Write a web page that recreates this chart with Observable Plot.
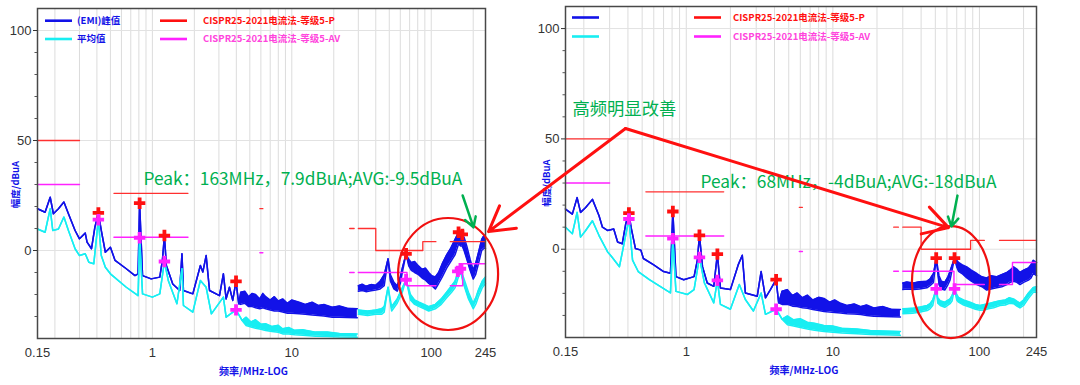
<!DOCTYPE html>
<html><head><meta charset="utf-8">
<script src="https://cdn.jsdelivr.net/npm/d3@7"></script>
<script src="https://cdn.jsdelivr.net/npm/@observablehq/plot@0.6"></script>
<style>
body{margin:0;background:#fff;}
#wrap{position:relative;width:1080px;height:385px;overflow:hidden;background:#fff;}
#left,#right{position:absolute;top:0;width:540px;height:385px;}
#left{left:0;} #right{left:540px;}
</style></head><body><div id="wrap"><div id="left"></div><div id="right"></div></div>
<script>
// ---------- axes ----------
const FREQ_TICKS = [0.15, 1, 10, 100, 245];
const FREQ_GRID = [0.2,0.3,0.4,0.5,0.6,0.7,0.8,0.9,1,2,3,4,5,6,7,8,9,10,20,30,40,50,60,70,80,90,100,200];
const Y_MAJOR = [0, 50, 100];
const Y_MINOR = [-30,-20,-10,10,20,30,40,60,70,80,90];
const Y_GRID = [0, 50, 100];

// ---------- texts ----------
const Y_LABEL = "幅度/dBuA";
const X_LABEL = "频率/MHz-LOG";
const LEGEND_L = ["(EMI)峰值", "平均值", "CISPR25-2021电流法-等级5-P", "CISPR25-2021电流法-等级5-AV"];
const LEGEND_R = ["", "", "CISPR25-2021电流法-等级5-P", "CISPR25-2021电流法-等级5-AV"];
const NOTE_L = "Peak：163MHz，7.9dBuA;AVG:-9.5dBuA";
const NOTE_R = "Peak：68MHz，-4dBuA;AVG:-18dBuA";
const NOTE_MID = "高频明显改善";

// ---------- limits (CISPR25 class 5, current method) ----------
const LIM_P_seg = ["a","a","b","b","c","c","d","d","e","e","e","e","e","e","f","f"];
const LIM_P_f   = [0.15,0.30, 0.53,1.8, 5.9,6.2, 26,28, 30,40,40,87,87,108, 137,245];
const LIM_P_v   = [50,50, 26,26, 19,19, 10,10, 10,10,0,0,4,4, 4,4];
const LIM_AV_seg = ["a","a","b","b","c","c","d","d","e","e","e","e","f","f","f","f"];
const LIM_AV_f   = [0.15,0.30, 0.53,1.8, 5.9,6.2, 26,28, 30,67,67,108, 137,168,168,245];
const LIM_AV_v   = [30,30, 6,6, -1,-1, -10,-10, -10,-10,-16,-16, -16,-16,-6,-6];

// ---------- LEFT panel: peak ----------
const L_PK_f = [0.15,0.17,0.185,0.195,0.212,0.232,0.25,0.279,0.30,0.33,0.34,0.366,0.387,0.41,0.43,0.46,0.50,0.54,0.65,0.75,0.79,0.81,0.85,0.98,1.13,1.18,1.22,1.26,1.40,1.57,1.63,1.67,1.95,2.21,2.30,2.43,2.57,3.03,3.23,3.38,3.57,3.77,3.98,4.16];
const L_PK_v = [19,17.4,24.2,16.7,19,22,16.7,9.1,5.3,7.9,3.8,0.8,10.6,17.1,9.1,-0.8,1.5,-4.5,-8.3,-11.4,-10.6,21.5,-11.4,-12.9,-12.1,-4.5,6.8,-6.8,-15.2,-18.2,-1.5,-18.2,-19.7,-6.8,-9.8,-2.3,-18.2,-20.5,-10.6,-22,-16.7,-22.7,-14,-24.2];
const L_PK_b1_f  = [4.3,4.6,4.9,5.2,5.5,5.9,6.2,6.5,7.0,7.5,8.0,8.6,9.3,10,11.3,12.5,14,15.5,17,19.5,22,25,29.5];
const L_PK_b1_hi = [-19,-18.5,-21,-19.5,-20,-22,-19.5,-21,-22.5,-21,-23,-22,-24,-22.5,-23.5,-24.5,-23.5,-25,-24.5,-25.8,-25.2,-26.2,-26.5];
const L_PK_b1_lo = [-24.5,-24,-25.5,-25.5,-26,-26.5,-26,-26.5,-27,-27.5,-27.5,-28,-28.5,-28.5,-28.8,-29,-29.3,-29.5,-29.8,-30.3,-30.3,-30.5,-30.6];
const L_PK_b2_f  = [30,32,34,37,40,43,46,49,51,54,57,60,62,66,69,72,76,81,86,91,96,101,107,113,120,129,138,148,157,163,167,172,180,190,200,208,218,230,240,245];
const L_PK_b2_hi = [-16,-15.3,-16.2,-15.5,-15.8,-14,-11,-3.8,-11,-14.5,-16,-12,-8,-1.5,-4,-5.5,-5,-7,-8.5,-8,-10,-11.5,-12,-10,-6,-2,1,5,8.3,8,7.3,6,2,-4,-9,-6,-1,5,7,6];
const L_PK_b2_lo = [-18.5,-18.2,-18.7,-18.3,-18,-17.5,-16,-3.8,-14,-17.5,-18.5,-15,-10,-1.5,-7,-9,-10,-11,-12.5,-13.5,-15,-16,-17.5,-15,-12,-8,-5,-2,3,2,2,0,-4,-9,-13,-11,-6,0,1,1];

// ---------- LEFT panel: average ----------
const L_AV_f = [0.15,0.17,0.185,0.193,0.212,0.232,0.25,0.279,0.30,0.33,0.35,0.38,0.40,0.41,0.43,0.46,0.50,0.65,0.79,0.81,0.85,1.0,1.13,1.22,1.30,1.50,1.63,1.67,1.95,2.21,2.43,2.65,3.23,3.38,3.98,4.4];
const L_AV_v = [9.8,8.3,19,9.1,9.8,15.2,9.1,0.8,-2.3,-1.5,-5.3,-6,7.6,14,-2.3,-7.6,-10.6,-16.7,-20.5,5.8,-19.7,-21.2,-19.7,-5,-13.6,-24.2,-8.3,-25,-28,-13.6,-16.7,-28.8,-21.2,-30.3,-27,-31.8];
const L_AV_b1_f  = [4.7,5.1,5.5,6.0,6.5,7.2,8.0,8.6,9.5,10.5,12,14.8,18,22,29.5];
const L_AV_b1_hi = [-30.3,-32.5,-31.5,-33.5,-33.3,-34.5,-34,-35.6,-35,-36.3,-36,-37.1,-37,-37.7,-37.9];
const L_AV_b1_lo = [-34.1,-34.8,-35.3,-35.8,-36.4,-36.8,-37.2,-37.9,-38,-38.3,-38.5,-39,-39.1,-39.3,-39.4];
const L_AV_b2_f  = [30,35,40,44,46,49,52,57,62,66,71,76,82,89,96,107,118,129,140,148,155,162,170,185,200,210,218,232,245];
const L_AV_b2_hi = [-27,-27.5,-27,-26.5,-25.5,-16.7,-25.5,-22,-17,-13.3,-20,-22.5,-23.5,-24.5,-25.5,-24.5,-22,-19,-16,-14,-10,-8.3,-12,-19,-24,-21,-18,-14,-12];
const L_AV_b2_lo = [-29,-29.5,-29,-29,-28,-16.7,-27.5,-24,-19,-13.3,-22.5,-24.5,-25.5,-26.5,-27.5,-26.5,-24.5,-21.5,-19,-17,-13,-9.5,-15,-22,-26.5,-24,-21,-17,-15];

// ---------- LEFT markers ----------
const L_PKM_f = [0.41,0.81,1.22,3.98,66,157,167];
const L_PKM_v = [17.1,21.5,6.8,-14,-1.5,8.3,7.3];
const L_AVM_f = [0.41,0.81,1.22,3.98,66,155,162];
const L_AVM_v = [14,5.8,-5,-27,-13.3,-9.5,-8.3];

// ---------- RIGHT panel: peak ----------
const R_PK_f = [0.15,0.167,0.18,0.19,0.206,0.229,0.254,0.268,0.29,0.32,0.34,0.366,0.386,0.406,0.42,0.45,0.49,0.51,0.60,0.70,0.78,0.81,0.85,0.96,1.13,1.19,1.23,1.29,1.39,1.54,1.63,1.71,2.0,2.26,2.41,2.53,3.05,3.24,3.47,3.75,4.1,4.27];
const R_PK_v = [18.2,15.9,23.4,16.7,18.9,22.6,15.2,10,8.5,9.2,3.3,2.5,11.4,16.4,10,0.3,-0.4,-4.2,-7.1,-10.1,-10.9,17.1,-12.4,-13.8,-12.4,-4.9,6.3,-7.9,-15.3,-16.8,-2.2,-17.6,-18.3,-7.1,-2.7,-19.8,-21.3,-10.1,-22,-18.3,-13.8,-24.3];
const R_PK_b1_f  = [4.5,4.9,5.3,5.7,6.2,6.7,7.3,8.0,8.7,9.5,10.3,11.3,12.5,14,15.5,17,19,22,25,28.9];
const R_PK_b1_hi = [-19,-18.3,-21,-19.8,-22,-20.8,-23,-21.8,-22.3,-24,-23,-24.5,-25.5,-24.8,-26,-25.3,-26.6,-26,-27.2,-27.3];
const R_PK_b1_lo = [-25,-25,-25.8,-26,-26.5,-26.8,-27.3,-27.8,-28.2,-28.5,-28.7,-28.9,-29.2,-29.4,-29.6,-30,-30.4,-30.5,-30.6,-30.7];
const R_PK_b2_f  = [30,32,35.5,39,43.8,46,48.6,50.7,53,55,58,61,63,67.6,70,72,76,82,88,96,104,112,120,131,142,154,162,171,180,189,200,216,225,233,245];
const R_PK_b2_hi = [-15.3,-14.8,-15.3,-14.7,-14.5,-13.5,-11,-4,-12,-14.5,-15,-12.5,-10,-4,-5,-6,-7,-8,-9.5,-11,-12.5,-13,-12,-12.5,-11.5,-10.5,-9.5,-8,-9,-10.5,-9.5,-8.5,-7,-5,-6];
const R_PK_b2_lo = [-18.3,-18,-18.3,-18,-17.5,-16.5,-15,-4,-16,-18,-18.5,-16,-14,-4,-8,-10,-11,-13,-14.5,-16,-17,-18.5,-18,-17.5,-17,-16,-15,-14.5,-15,-16,-15,-14,-13,-11,-12];

// ---------- RIGHT panel: average ----------
const R_AV_f = [0.15,0.167,0.18,0.19,0.206,0.229,0.254,0.29,0.31,0.35,0.38,0.406,0.43,0.47,0.56,0.78,0.81,0.85,1.02,1.13,1.23,1.33,1.54,1.63,1.71,2.0,2.3,2.53,2.87,3.24,3.47,4.1,4.5];
const R_AV_v = [10,7,16.7,5.5,8.5,12.9,6.2,-1.1,-3.4,-7.9,4,13.7,-4.9,-10.1,-13.8,-19.8,4.8,-19.1,-20.5,-18.3,-3.7,-15.3,-24.3,-14.1,-25,-27.2,-16,-22.8,-28,-19.8,-29.5,-27.2,-31.7];
const R_AV_b1_f  = [4.9,5.4,6.0,6.7,7.5,8.7,10,11.5,14.6,18,22,28.9];
const R_AV_b1_hi = [-30.2,-32,-31.5,-33.1,-33.5,-34.6,-34.8,-35.8,-36.1,-36.8,-37,-37.3];
const R_AV_b1_lo = [-34.2,-34.8,-35.5,-36.1,-36.7,-37.3,-37.6,-38,-38.3,-38.6,-38.8,-39];
const R_AV_b2_f  = [30,35,39.5,44,46,48,50.7,52,54,58,63,65,67.6,70,72,78,86.5,94,101,108,115,125,138,150,160,171,180,189,200,215,233,245];
const R_AV_b2_hi = [-27,-26.8,-26.2,-25.5,-24.7,-23,-18,-22,-23.3,-24,-22.5,-21,-18,-20.5,-21.8,-23,-24,-25,-25.5,-25,-24.7,-24,-23.3,-23,-22,-22.5,-23.5,-24.4,-23,-20,-17.3,-17];
const R_AV_b2_lo = [-29.2,-29,-28.4,-27.8,-27,-25.5,-18,-24.5,-25.5,-26.3,-24.7,-23.5,-18,-23,-24,-25.3,-26.3,-27.2,-27.7,-27.5,-27,-26.5,-25.5,-25.3,-24.5,-24.7,-25.8,-26.6,-25.5,-22.5,-19.5,-19.5];

// ---------- RIGHT markers ----------
const R_PKM_f = [0.406,0.81,1.23,1.63,4.1,50.7,67.6];
const R_PKM_v = [16.4,17.1,6.3,-2.2,-13.8,-4,-4];
const R_AVM_f = [0.406,0.81,1.23,1.63,4.1,50.7,67.6];
const R_AVM_v = [13.7,4.8,-3.7,-14.1,-27.2,-18,-18];

// ---------- styling ----------
const BLUE = "#1212e8", CYAN = "#18eef2", RED = "#ff1010", RED_LIM = "#ff3030", MAG = "#ff22ff", GREEN = "#00b050";
const CJK = "'Noto Sans CJK SC', 'Noto Sans', sans-serif";
const LAT = "'Liberation Sans', Arial, sans-serif";

function rows(f, hi, lo, seg) { return f.map((x, i) => ({f: x, hi: hi[i], lo: lo ? lo[i] : hi[i], seg})); }
function trace(cf, cv, b1f, b1hi, b1lo, b2f, b2hi, b2lo) {
  return [...rows(cf, cv, null, 1), ...rows(b1f, b1hi, b1lo, 1), ...rows(b2f, b2hi, b2lo, 2)];
}
function pts(f, v) { return f.map((x, i) => ({f: x, v: v[i]})); }
function traceMarks(data, color) {
  return [
    Plot.areaY(data, {x: "f", y1: "lo", y2: "hi", z: "seg", fill: color}),
    Plot.line(data, {x: "f", y: "hi", z: "seg", stroke: color, strokeWidth: 1.5}),
    Plot.line(data, {x: "f", y: "lo", z: "seg", stroke: color, strokeWidth: 1.5})
  ];
}
function legendMark(texts, p) {
  return (index, scales, values, dims) => {
    const g = d3.create("svg:g");
    const x0 = dims.marginLeft, y0 = dims.marginTop;
    const items = [[BLUE, BLUE, texts[0], p.c1, p.t1, p.r1], [CYAN, BLUE, texts[1], p.c1, p.t1, p.r2],
                   [RED, RED, texts[2], p.c2, p.t2, p.r1], [MAG, "#ff44dd", texts[3], p.c2, p.t2, p.r2]];
    for (const [c, tc, t, cx, tx, ry] of items) {
      g.append("line").attr("x1", x0 + cx).attr("x2", x0 + cx + 27).attr("y1", y0 + ry).attr("y2", y0 + ry)
        .attr("stroke", c).attr("stroke-width", 2.6);
      if (t) g.append("text").attr("x", x0 + cx + tx).attr("y", y0 + ry).attr("dy", "0.35em")
        .attr("text-anchor", "start").attr("fill", tc).attr("font-size", 9.5).attr("font-weight", "bold")
        .attr("font-family", CJK).text(t);
    }
    return g.node();
  };
}
function ellipseMark(e) {
  return (index, scales) => {
    const g = d3.create("svg:g");
    g.append("ellipse").attr("cx", scales.x(e.f)).attr("cy", scales.y(e.v)).attr("rx", e.rx).attr("ry", e.ry)
      .attr("fill", "none").attr("stroke", "#f01010").attr("stroke-width", 2.2);
    return g.node();
  };
}

function panel(cfg) {
  const limP = LIM_P_f.map((f, i) => ({f, v: LIM_P_v[i], s: LIM_P_seg[i]}));
  const limA = LIM_AV_f.map((f, i) => ({f, v: LIM_AV_v[i], s: LIM_AV_seg[i]}));
  return Plot.plot({
    width: 540, height: 385,
    marginLeft: cfg.ml, marginRight: cfg.mr, marginTop: cfg.mt, marginBottom: cfg.mb,
    x: {type: "log", domain: [0.15, 245]},
    y: {domain: [-40, 110]},
    style: `overflow: visible; background: transparent; font-family: ${LAT};`,
    marks: [
      Plot.ruleX(FREQ_GRID, {stroke: "#dcdcdc", strokeWidth: 1}),
      Plot.ruleY(Y_GRID, {stroke: "#e2e2e2", strokeWidth: 1}),
      ...traceMarks(cfg.pk, BLUE),
      ...traceMarks(cfg.av, CYAN),
      Plot.line(limP, {x: "f", y: "v", z: "s", stroke: RED_LIM, strokeWidth: 1.3}),
      Plot.line(limA, {x: "f", y: "v", z: "s", stroke: MAG, strokeWidth: 1.4}),
      Plot.dot(cfg.pkm, {x: "f", y: "v", symbol: "cross", r: 4.8, fill: RED, stroke: null}),
      Plot.dot(cfg.avm, {x: "f", y: "v", symbol: "cross", r: 4.8, fill: MAG, stroke: null}),
      Plot.frame({stroke: "#484848", strokeWidth: 1.5}),
      Plot.axisX({ticks: FREQ_TICKS, tickFormat: d => String(d), tickSize: 0, tickPadding: 9, fontSize: 13, color: "#333", label: null}),
      Plot.axisY({ticks: Y_MAJOR, tickSize: 4, tickPadding: 2, fontSize: 13, color: "#333", label: null}),
      Plot.axisY({ticks: Y_MINOR, tickSize: 2.5, tickFormat: () => "", color: "#555", label: null}),
      Plot.text([Y_LABEL], {frameAnchor: "left", textAnchor: "middle", lineAnchor: "middle", rotate: -90, dx: cfg.ylx, dy: 11, fill: BLUE, fontSize: 9.5, fontWeight: "bold", fontFamily: CJK}),
      Plot.text([X_LABEL], {frameAnchor: "bottom", textAnchor: "middle", lineAnchor: "middle", dx: cfg.xlx, dy: 33, fill: BLUE, fontSize: 10, fontWeight: "bold", fontFamily: CJK}),
      legendMark(cfg.legend, cfg.lp),
      ellipseMark(cfg.ellipse),
      Plot.text(cfg.notes, {x: "f", y: "v", text: "t", textAnchor: "start", fill: GREEN, fontSize: 17.3, fontFamily: CJK}),
      Plot.arrow(cfg.green, {x1: "f1", y1: "v1", x2: "f2", y2: "v2", stroke: GREEN, strokeWidth: 2.5, headLength: 10}),
      Plot.arrow(cfg.red, {x1: "f1", y1: "v1", x2: "f2", y2: "v2", stroke: RED, strokeWidth: 3, headLength: 14})
    ]
  });
}

const left = panel({
  ml: 37, mr: 55, mt: 8, mb: 47, ylx: -22, xlx: -8,
  pk: trace(L_PK_f, L_PK_v, L_PK_b1_f, L_PK_b1_hi, L_PK_b1_lo, L_PK_b2_f, L_PK_b2_hi, L_PK_b2_lo),
  av: trace(L_AV_f, L_AV_v, L_AV_b1_f, L_AV_b1_hi, L_AV_b1_lo, L_AV_b2_f, L_AV_b2_hi, L_AV_b2_lo),
  pkm: pts(L_PKM_f, L_PKM_v), avm: pts(L_AVM_f, L_AVM_v),
  legend: LEGEND_L, lp: {c1: 8, c2: 123, t1: 32, t2: 43, r1: 12.7, r2: 31},
  ellipse: {f: 133.2, v: -10.9, rx: 50, ry: 56},
  notes: [{f: 0.864, v: 32.3, t: NOTE_L}],
  green: [{f1: 168, v1: 25, f2: 201, v2: 10.5}],
  red: []
});
const right = panel({
  ml: 25, mr: 44, mt: 6, mb: 48, ylx: -19, xlx: 3,
  pk: trace(R_PK_f, R_PK_v, R_PK_b1_f, R_PK_b1_hi, R_PK_b1_lo, R_PK_b2_f, R_PK_b2_hi, R_PK_b2_lo),
  av: trace(R_AV_f, R_AV_v, R_AV_b1_f, R_AV_b1_hi, R_AV_b1_lo, R_AV_b2_f, R_AV_b2_hi, R_AV_b2_lo),
  pkm: pts(R_PKM_f, R_PKM_v), avm: pts(R_AVM_f, R_AVM_v),
  legend: LEGEND_R, lp: {c1: 7, c2: 129, t1: 32, t2: 39, r1: 11.5, r2: 30.5},
  ellipse: {f: 64.4, v: -15.1, rx: 39, ry: 56},
  notes: [{f: 1.25, v: 30.2, t: NOTE_R}, {f: 0.1675, v: 63.3, t: NOTE_MID}],
  green: [{f1: 70.8, v1: 24.3, f2: 64.4, v2: 10.3}],
  red: [{f1: 0.385, v1: 54.7, f2: 61.5, v2: 9.8}, {f1: 0.385, v1: 54.7, f2: 0.0448, v2: 8.0}]
});
document.getElementById("left").append(left);
document.getElementById("right").append(right);
</script>
</body></html>
